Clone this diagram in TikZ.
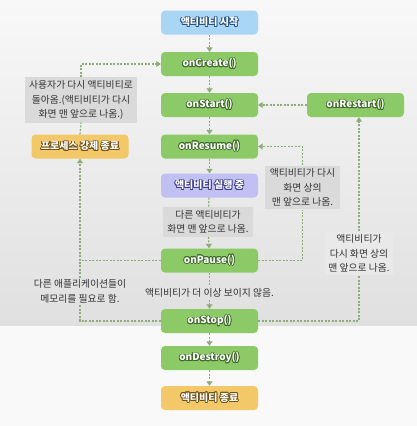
\documentclass[tikz,border=0pt]{standalone}
\usepackage{fontspec}
\setmainfont{Noto Sans CJK KR}
\usepackage{contour}
\contourlength{0.7pt}
\usetikzlibrary{arrows.meta}

\definecolor{bgtop}{RGB}{248,248,248}
\definecolor{bgbot}{RGB}{224,224,224}
\definecolor{bgwhite}{RGB}{249,249,249}
\definecolor{stagegreen}{RGB}{140,202,104}
\definecolor{darkgreen}{RGB}{62,105,40}
\definecolor{stageblue}{RGB}{170,214,246}
\definecolor{darkblue}{RGB}{40,85,130}
\definecolor{stagepurple}{RGB}{192,192,242}
\definecolor{darkpurple}{RGB}{60,60,140}
\definecolor{stageorange}{RGB}{242,200,104}
\definecolor{darkorange}{RGB}{110,80,20}
\definecolor{notegray}{RGB}{218,218,218}
\definecolor{notetext}{RGB}{50,50,50}
\definecolor{flowcol}{RGB}{140,172,120}

\tikzset{
  stage/.style={rounded corners=4pt, minimum width=97pt, minimum height=24pt,
    font=\bfseries\fontsize{10}{12}\selectfont, text=white},
  greenstage/.style={stage, fill=stagegreen},
  bluestage/.style={stage, fill=stageblue},
  purplestage/.style={stage, fill=stagepurple},
  orangestage/.style={stage, fill=stageorange},
  note/.style={fill=notegray, text=notetext, align=center, inner sep=3pt,
    font=\fontsize{9.8}{14.5}\selectfont},
  plain/.style={text=notetext, align=center, inner sep=2pt,
    font=\fontsize{9.8}{14.5}\selectfont},
  flow/.style={flowcol, line width=1.2pt, dash pattern=on 2pt off 1.5pt},
  flowarr/.style={flow, -{Triangle[width=6pt,length=4.5pt]}}
}

\begin{document}
\begin{tikzpicture}[x=1pt,y=-1pt]
    \useasboundingbox (0,0) rectangle (417,426);

    % background
    \fill[bgwhite] (0,0) rectangle (417,426);
    \shade[top color=bgtop, bottom color=bgbot] (0,0) rectangle (417,325);

    % main column
    \node[bluestage] (start) at (209.5,22.5) {\contour{darkblue}{액티비티 시작}};
    \node[greenstage] (create) at (209.5,64) {\contour{darkgreen}{onCreate()}};
    \node[greenstage] (startcb) at (209.5,105) {\contour{darkgreen}{onStart()}};
    \node[greenstage] (resume) at (209.5,146.5) {\contour{darkgreen}{onResume()}};
    \node[purplestage] (running) at (209.5,185.5) {\contour{darkpurple}{액티비티 실행 중}};
    \node[greenstage] (pause) at (209.5,260.5) {\contour{darkgreen}{onPause()}};
    \node[greenstage] (stop) at (209.5,321) {\contour{darkgreen}{onStop()}};
    \node[greenstage] (destroy) at (209.5,358) {\contour{darkgreen}{onDestroy()}};
    \node[orangestage] (finish) at (209.5,398) {\contour{darkorange}{액티비티 종료}};

    % side stages
    \node[greenstage] (restart) at (355.5,105) {\contour{darkgreen}{onRestart()}};
    \node[orangestage] (kill) at (80,146.5) {\contour{darkorange}{프로세스 강제 종료}};

    % notes
    \node[note, minimum width=112pt] (backnote) at (81,100)
        {사용자가 다시 액티비티로\\돌아옴.(액티비티가 다시\\화면 맨 앞으로 나옴.)};
    \node[note, minimum width=90pt] (othernote) at (208,222)
        {다른 액티비티가\\화면 맨 앞으로 나옴.};
    \node[note, minimum width=75pt] (resumenote) at (302.5,187.5)
        {액티비티가 다시\\화면 상의\\맨 앞으로 나옴.};
    \node[note, fill=notegray!60, minimum width=68pt] (restartnote) at (359,253.5)
        {액티비티가\\다시 화면 상의\\맨 앞으로 나옴.};
    \node[plain] (memtext) at (80,291.5) {다른 애플리케이션들이\\메모리를 필요로 함.};
    \node[plain] (hidden) at (209.5,293) {액티비티가 더 이상 보이지 않음.};

    % main flow
    \draw[flowarr] (start) -- (create);
    \draw[flowarr] (create) -- (startcb);
    \draw[flowarr] (startcb) -- (resume);
    \draw[flowarr] (resume) -- (running);
    \draw[flow] (running) -- (othernote);
    \draw[flowarr] (othernote) -- (pause);
    \draw[flow] (pause) -- (hidden);
    \draw[flowarr] (hidden) -- (stop);
    \draw[flowarr] (stop) -- (destroy);
    \draw[flowarr] (destroy) -- (finish);

    % back to the front
    \draw[flow] (pause.east) -| (resumenote.south);
    \draw[flowarr] (resumenote.north) |- (resume.east);
    \draw[flow] (stop.east) -| (restartnote.south);
    \draw[flowarr] (restartnote.north) -- (restartnote.north |- restart.south);
    \draw[flowarr] (restart) -- (startcb);

    % process killed
    \draw[flow] (stop.west) -| (memtext.south);
    \draw[flow] (memtext.north) -- (memtext.north |- pause.west);
    \draw[flowarr] (pause.west) -| (kill.south);
    \draw[flow] (kill.north) -- (backnote.south);
    \draw[flowarr] (backnote.north) |- (create.west);

\end{tikzpicture}
\end{document}
